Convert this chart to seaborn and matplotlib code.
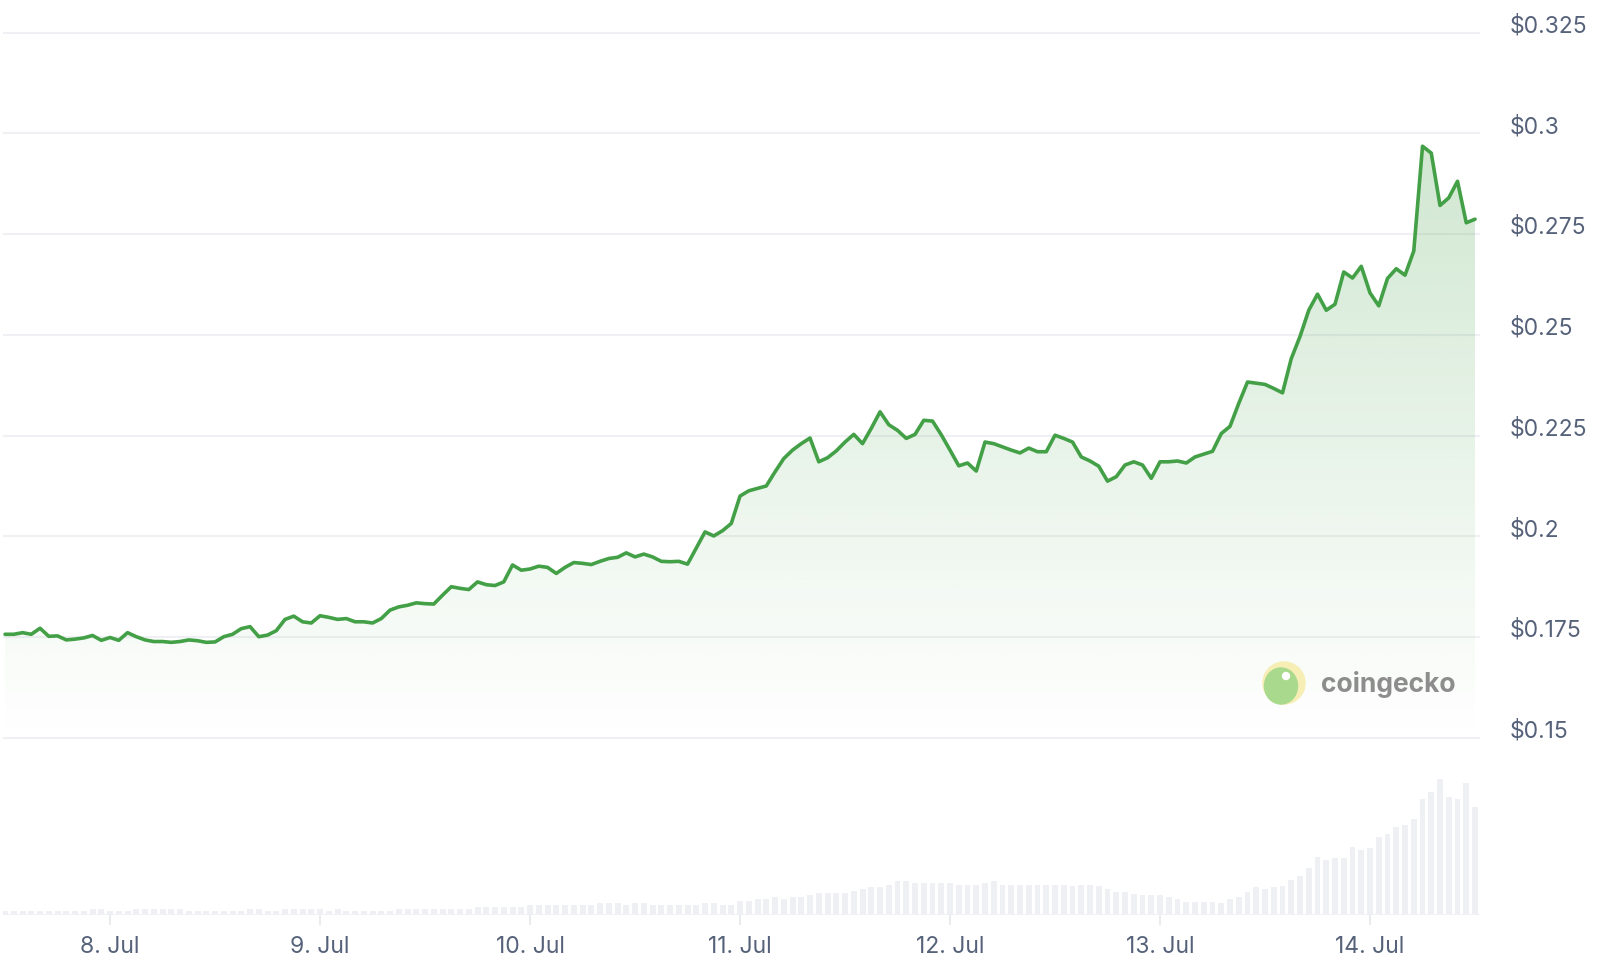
import numpy as np
import pandas as pd
import seaborn as sns
import matplotlib.pyplot as plt
import matplotlib.dates as mdates
import matplotlib.transforms as mtransforms
from matplotlib.patches import Ellipse

# hourly price (USD), from 7 Jul 12:00 to 14 Jul 12:00
price = [
    0.1757, 0.1757, 0.1761, 0.1757, 0.1772, 0.1752, 0.1753, 0.1743, 0.1745, 0.1748,
    0.1754, 0.1742, 0.1749, 0.1742, 0.1761, 0.1751, 0.1743, 0.1739, 0.1739, 0.1737,
    0.1739, 0.1743, 0.1741, 0.1737, 0.1738, 0.1751, 0.1757, 0.1771, 0.1776, 0.1751,
    0.1755, 0.1766, 0.1794, 0.1802, 0.1788, 0.1785, 0.1803, 0.1799, 0.1794, 0.1796,
    0.1788, 0.1788, 0.1785, 0.1796, 0.1817, 0.1825, 0.1829, 0.1835, 0.1833, 0.1832,
    0.1854, 0.1875, 0.1871, 0.1868, 0.1887, 0.1880, 0.1878, 0.1887, 0.1929, 0.1916,
    0.1919, 0.1926, 0.1923, 0.1908, 0.1923, 0.1935, 0.1933, 0.1930, 0.1938, 0.1945,
    0.1948, 0.1959, 0.1949, 0.1956, 0.1949, 0.1938, 0.1937, 0.1938, 0.1931, 0.1971,
    0.2011, 0.2001, 0.2014, 0.2032, 0.2100, 0.2113, 0.2119, 0.2125, 0.2160, 0.2193,
    0.2214, 0.2230, 0.2244, 0.2185, 0.2195, 0.2212, 0.2234, 0.2253, 0.2230, 0.2268,
    0.2309, 0.2277, 0.2263, 0.2243, 0.2253, 0.2288, 0.2286, 0.2252, 0.2214, 0.2175,
    0.2182, 0.2162, 0.2234, 0.2230, 0.2222, 0.2214, 0.2207, 0.2219, 0.2210, 0.2210,
    0.2251, 0.2243, 0.2234, 0.2197, 0.2187, 0.2174, 0.2137, 0.2148, 0.2177, 0.2185,
    0.2177, 0.2144, 0.2185, 0.2185, 0.2187, 0.2182, 0.2197, 0.2204, 0.2211, 0.2255,
    0.2273, 0.2330, 0.2383, 0.2380, 0.2377, 0.2367, 0.2356, 0.2441, 0.2496, 0.2561,
    0.2601, 0.2561, 0.2576, 0.2656, 0.2641, 0.2670, 0.2604, 0.2572, 0.2640, 0.2664,
    0.2648, 0.2708, 0.2968, 0.2951, 0.2821, 0.2840, 0.2881, 0.2778, 0.2787,
]

# hourly volume (relative units)
volume = [
    4, 4, 4, 4, 4, 4, 4, 4, 4, 4,
    6, 6, 4, 4, 4, 6, 6, 6, 6, 6,
    6, 4, 4, 4, 4, 4, 4, 4, 6, 6,
    4, 4, 6, 6, 6, 6, 6, 4, 6, 4,
    4, 4, 4, 4, 4, 6, 6, 6, 6, 6,
    6, 6, 6, 6, 8, 8, 8, 8, 8, 8,
    10, 10, 10, 10, 10, 10, 10, 10, 12, 12,
    12, 10, 12, 12, 10, 10, 10, 10, 10, 10,
    12, 12, 10, 10, 14, 14, 16, 16, 18, 16,
    18, 18, 20, 22, 22, 22, 22, 24, 26, 28,
    28, 30, 34, 34, 32, 32, 32, 32, 32, 30,
    30, 30, 32, 34, 30, 30, 30, 30, 30, 30,
    30, 30, 29, 30, 30, 29, 26, 23, 23, 21,
    20, 20, 20, 18, 16, 13, 13, 13, 13, 12,
    16, 18, 23, 28, 26, 28, 29, 35, 39, 47,
    58, 55, 57, 57, 68, 65, 67, 78, 81, 88,
    90, 96, 116, 123, 136, 118, 116, 132, 108,
]

day_ticks = ["2024-07-08", "2024-07-09", "2024-07-10", "2024-07-11",
             "2024-07-12", "2024-07-13", "2024-07-14"]
price_ticks = [0.15, 0.175, 0.2, 0.225, 0.25, 0.275, 0.3, 0.325]
price_labels = [r"\$0.15", r"\$0.175", r"\$0.2", r"\$0.225",
                r"\$0.25", r"\$0.275", r"\$0.3", r"\$0.325"]

times = pd.date_range("2024-07-07 12:00", periods=len(price), freq="h")
df = pd.DataFrame({"time": times, "price": price, "volume": volume})

sns.set_theme(style="white")
plt.rcParams["font.family"] = ["Inter", "DejaVu Sans"]

GRID = "#eff0f3"
LINE = "#43a047"
TEXT = "#56627a"

fig = plt.figure(figsize=(16, 9.74), dpi=100)
ax = fig.add_axes([0.0019, 0.2321, 0.9231, 0.7448])
axv = fig.add_axes([0.0019, 0.0606, 0.9231, 0.1591], sharex=ax)

t0 = mdates.date2num(times[0])
xlim = (t0 - 0.229 / 24, t0 + 168.57 / 24)

# price line
sns.lineplot(data=df, x="time", y="price", ax=ax, color=LINE, linewidth=2.6, zorder=4)

# gradient fill under the line
xnum = mdates.date2num(times)
poly = ax.fill_between(xnum, df["price"], 0.15, facecolor="none", edgecolor="none")
grad = np.zeros((256, 1, 4))
grad[:, 0, 0] = 67 / 255
grad[:, 0, 1] = 160 / 255
grad[:, 0, 2] = 71 / 255
grad[:, 0, 3] = np.linspace(0.0, 0.25, 256)
img = ax.imshow(grad, extent=[xnum[0], xnum[-1], 0.15, max(price)],
                aspect="auto", origin="lower", zorder=2)
img.set_clip_path(poly.get_paths()[0], transform=ax.transData)

ax.set_xlim(*xlim)
ax.set_ylim(0.1475, 0.3275)
ax.set_yticks(price_ticks)
ax.set_yticklabels(price_labels)
ax.yaxis.tick_right()
ax.tick_params(axis="y", length=0, pad=21.5, labelsize=16.5, labelcolor=TEXT)
ax.tick_params(axis="x", length=0, labelbottom=False)
for lab in ax.get_yticklabels():
    lab.set_horizontalalignment("left")
    lab.set_transform(lab.get_transform() +
                      mtransforms.ScaledTranslation(0, 0.09, fig.dpi_scale_trans))
ax.grid(axis="y", color=GRID, linewidth=1.5, zorder=1)
ax.grid(axis="x", visible=False)
ax.set_xlabel("")
ax.set_ylabel("")
for s in ax.spines.values():
    s.set_visible(False)
ax.patch.set_alpha(0)

# volume bars
axv.bar(xnum, df["volume"], width=0.68 / 24, color=GRID, linewidth=0, zorder=2)
axv.axhline(0, color=GRID, linewidth=2, zorder=3)
axv.set_ylim(0, 155)
axv.set_yticks([])
axv.set_xticks(mdates.date2num(pd.to_datetime(day_ticks)))
axv.set_xticklabels([f"{d.day}. {d.strftime('%b')}" for d in pd.to_datetime(day_ticks)])
axv.tick_params(axis="x", length=7, width=1.2, color="#e4e6eb", pad=8,
                labelsize=16.5, labelcolor=TEXT, bottom=True)
axv.set_xlim(*xlim)
for s in axv.spines.values():
    s.set_visible(False)
axv.patch.set_alpha(0)

# coingecko watermark
fig.add_artist(Ellipse((1284 / 1600, 1 - 683 / 974), 42 / 1600, 42 / 974,
                       transform=fig.transFigure, color="#f6eeb4", zorder=5))
fig.add_artist(Ellipse((1281 / 1600, 1 - 686 / 974), 33 / 1600, 36 / 974,
                       transform=fig.transFigure, color="#a8d98c", zorder=6))
fig.add_artist(Ellipse((1286 / 1600, 1 - 676 / 974), 7 / 1600, 7 / 974,
                       transform=fig.transFigure, color="white", zorder=7))
fig.text(1321 / 1600, 1 - 684 / 974, "coingecko", fontsize=19, fontweight="bold",
         color="#8d8d8d", ha="left", va="center", zorder=8)

fig.savefig("out.png", dpi=100)
